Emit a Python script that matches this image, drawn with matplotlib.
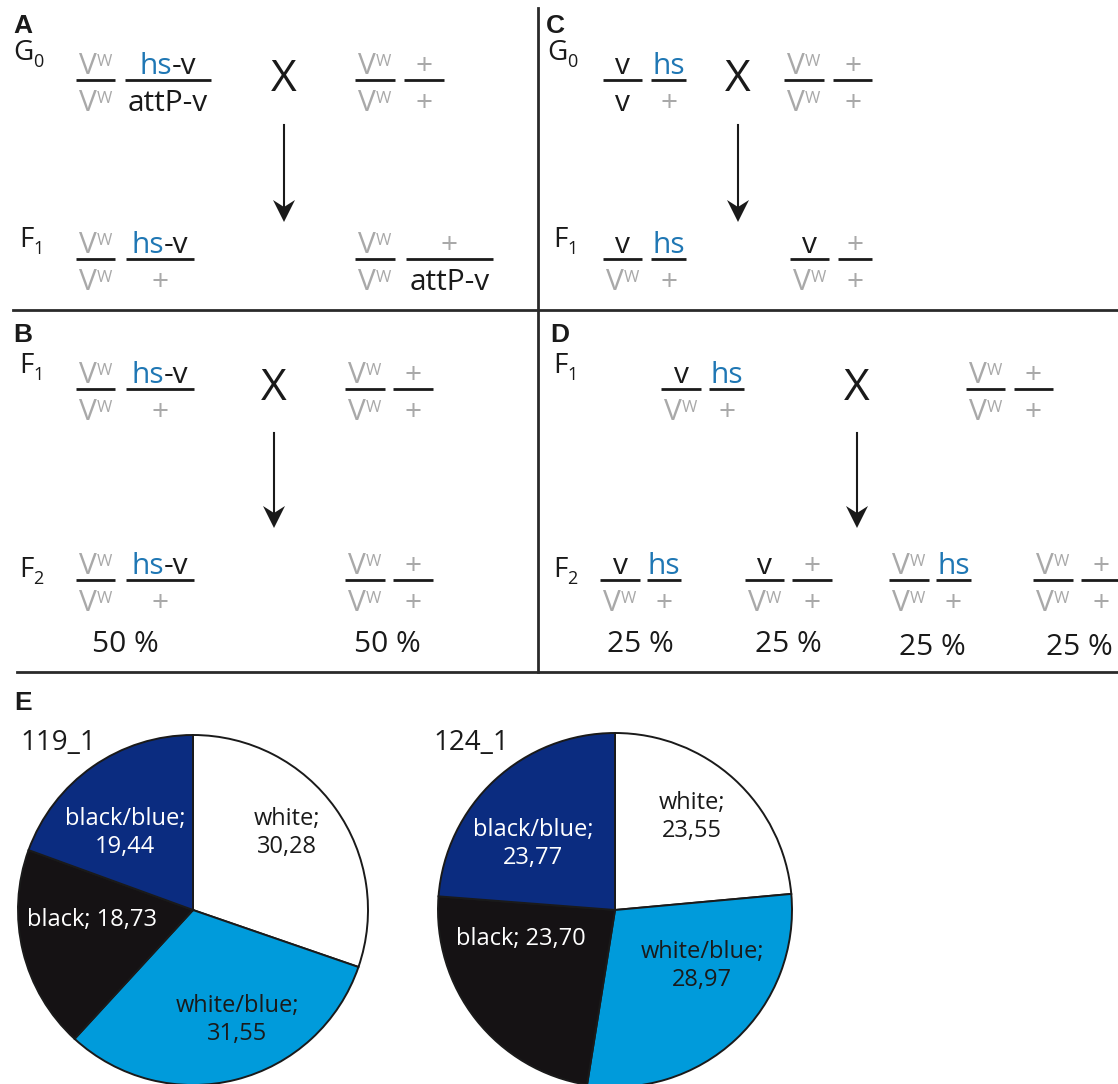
import matplotlib
matplotlib.use('Agg')
import matplotlib.pyplot as plt
from matplotlib.patches import Polygon

W, H = 1118, 1084
GRAY = '#a9a9a9'
BLACK = '#1a1a1a'
BLUE = '#1f77b4'

plt.rcParams['font.family'] = ['Open Sans', 'DejaVu Sans']

# genotypes: each chromosome written as "top/bottom"
a_g0 = [['vw/vw', 'hs-v/attP-v'], ['vw/vw', '+/+']]
a_f1 = [['vw/vw', 'hs-v/+'], ['vw/vw', '+/attP-v']]
c_g0 = [['v/v', 'hs/+'], ['vw/vw', '+/+']]
c_f1 = [['v/vw', 'hs/+'], ['v/vw', '+/+']]
b_f1 = [['vw/vw', 'hs-v/+'], ['vw/vw', '+/+']]
b_f2 = [['vw/vw', 'hs-v/+'], ['vw/vw', '+/+']]
b_ratio = ['50 %', '50 %']
d_f1 = [['v/vw', 'hs/+'], ['vw/vw', '+/+']]
d_f2 = [['v/vw', 'hs/+'], ['v/vw', '+/+'], ['vw/vw', 'hs/+'], ['vw/vw', '+/+']]
d_ratio = ['25 %', '25 %', '25 %', '25 %']

# pie data (panel E)
lines_e = ['119_1', '124_1']
phenotypes = ['white', 'white/blue', 'black', 'black/blue']
share_119 = [30.28, 31.55, 18.73, 19.44]
share_124 = [23.55, 28.97, 23.70, 23.77]
pie_colors = ['#ffffff', '#009bdb', '#151214', '#0b2c80']
label_colors = ['#1a1a1a', '#1a1a1a', '#ffffff', '#ffffff']

FS = 21.5
FS_SUP = 12

fig = plt.figure(figsize=(W / 100, H / 100), dpi=100)
ax = fig.add_axes([0, 0, 1, 1], zorder=2)
ax.set_xlim(0, W)
ax.set_ylim(H, 0)
ax.axis('off')
ax.patch.set_alpha(0)
renderer = fig.canvas.get_renderer()


def run(x, y, segs, ha='center'):
    # lay out coloured text pieces side by side on one baseline
    arts = []
    for s, c, fs, rise in segs:
        arts.append(ax.text(0, y - rise, s, color=c, fontsize=fs, ha='left', va='baseline'))
    ws = [t.get_window_extent(renderer).width for t in arts]
    cur = x - sum(ws) / 2 if ha == 'center' else x
    for t, w in zip(arts, ws):
        t.set_x(cur)
        cur += w


def allele(name):
    if name == 'vw':
        return [('V', GRAY, FS, 0), ('W', GRAY, FS_SUP, 8)]
    if name == '+':
        return [('+', GRAY, FS, 0)]
    if name == 'hs-v':
        return [('hs', BLUE, FS, 0), ('-v', BLACK, FS, 0)]
    if name == 'hs':
        return [('hs', BLUE, FS, 0)]
    return [(name, BLACK, FS, 0)]


def genotype(chroms, spans, y):
    for chrom, (x0, x1) in zip(chroms, spans):
        top, bot = chrom.split('/')
        ax.plot([x0, x1], [y, y], color=BLACK, lw=2.0, solid_capstyle='butt')
        xc = (x0 + x1) / 2
        run(xc, y - 6, allele(top))
        run(xc, y + 31, allele(bot))


def gen_label(x, y, letter, sub):
    run(x, y, [(letter, BLACK, 20, 0), (sub, BLACK, 13, -7)], ha='left')


def cross(x, y, y0, y1):
    ax.text(x, y, 'X', fontsize=32, ha='center', va='center', color=BLACK)
    ax.plot([x, x], [y0, y1 - 10], color=BLACK, lw=1.5)
    ax.add_patch(Polygon([(x, y1), (x - 11, y1 - 22), (x, y1 - 15), (x + 11, y1 - 22)],
                         closed=True, color=BLACK, lw=0))


def panel_letter(x, y, s):
    ax.text(x, y, s, fontsize=19, fontweight='bold', family='Liberation Sans',
            ha='left', va='baseline', color=BLACK)


# dividers
ax.plot([13, W], [310, 310], color='#2a2a2a', lw=2.0)
ax.plot([538, 538], [8, 672], color='#2a2a2a', lw=2.0)
ax.plot([17, W], [672, 672], color='#2a2a2a', lw=2.0)

# panel A
panel_letter(13, 33, 'A')
gen_label(13, 60, 'G', '0')
genotype(a_g0[0], [(76, 115), (125, 211)], 80)
genotype(a_g0[1], [(355, 395), (404, 444)], 80)
cross(284, 80, 125, 222)
gen_label(19, 247, 'F', '1')
genotype(a_f1[0], [(76, 115), (126, 194)], 259)
genotype(a_f1[1], [(355, 395), (406, 493)], 259)

# panel C
panel_letter(546, 33, 'C')
gen_label(547, 60, 'G', '0')
genotype(c_g0[0], [(603, 642), (651, 686)], 80)
genotype(c_g0[1], [(784, 824), (833, 872)], 80)
cross(738, 80, 125, 222)
gen_label(553, 247, 'F', '1')
genotype(c_f1[0], [(603, 642), (651, 686)], 259)
genotype(c_f1[1], [(790, 829), (838, 872)], 259)

# panel B
panel_letter(13, 342, 'B')
gen_label(19, 373, 'F', '1')
genotype(b_f1[0], [(76, 115), (126, 194)], 389)
genotype(b_f1[1], [(345, 385), (393, 433)], 389)
cross(274, 389, 433, 528)
gen_label(19, 577, 'F', '2')
genotype(b_f2[0], [(76, 115), (126, 194)], 580)
genotype(b_f2[1], [(345, 385), (393, 433)], 580)
for s, xc in zip(b_ratio, [125, 387]):
    ax.text(xc, 652, s, fontsize=FS, ha='center', va='baseline', color=BLACK)

# panel D
panel_letter(550, 342, 'D')
gen_label(553, 373, 'F', '1')
genotype(d_f1[0], [(661, 701), (709, 744)], 389)
genotype(d_f1[1], [(966, 1005), (1014, 1053)], 389)
cross(857, 389, 433, 528)
gen_label(553, 577, 'F', '2')
d_spans = [[(600, 640), (647, 681)], [(745, 784), (792, 832)],
           [(889, 929), (936, 971)], [(1033, 1073), (1081, 1121)]]
for g, sp in zip(d_f2, d_spans):
    genotype(g, sp, 580)
for s, xc, yb in zip(d_ratio, [640, 788, 932, 1079], [652, 652, 655, 655]):
    ax.text(xc, yb, s, fontsize=FS, ha='center', va='baseline', color=BLACK)

# panel E
panel_letter(14, 710, 'E')
pies = [
    (lines_e[0], share_119, (193, 910, 175), (20, 750),
     [(94, -77), (44, 110), (-101, 10), (-68, -77)]),
    (lines_e[1], share_124, (615, 910, 177), (433, 750),
     [(77, -93), (87, 56), (-94, 29), (-82, -66)]),
]
for name, vals, (cx, cy, r), (tx, ty), offs in pies:
    m = 1.02
    pax = fig.add_axes([(cx - r * m) / W, (H - cy - r * m) / H, 2 * r * m / W, 2 * r * m / H], zorder=1)
    pax.pie(vals, colors=pie_colors, startangle=90, counterclock=False,
            wedgeprops=dict(edgecolor=BLACK, linewidth=1.4))
    pax.set_xlim(-m, m)
    pax.set_ylim(-m, m)
    pax.set_aspect('equal')
    ax.text(tx, ty, name, fontsize=20, ha='left', va='baseline', color=BLACK)
    for ph, v, col, (dx, dy) in zip(phenotypes, vals, label_colors, offs):
        num = f'{v:.2f}'.replace('.', ',')
        sep = ' ' if ph == 'black' else '\n'
        ax.text(cx + dx, cy + dy, f'{ph};{sep}{num}', fontsize=17, ha='center', va='center',
                color=col, linespacing=1.2)

fig.savefig('out.png', dpi=100)
